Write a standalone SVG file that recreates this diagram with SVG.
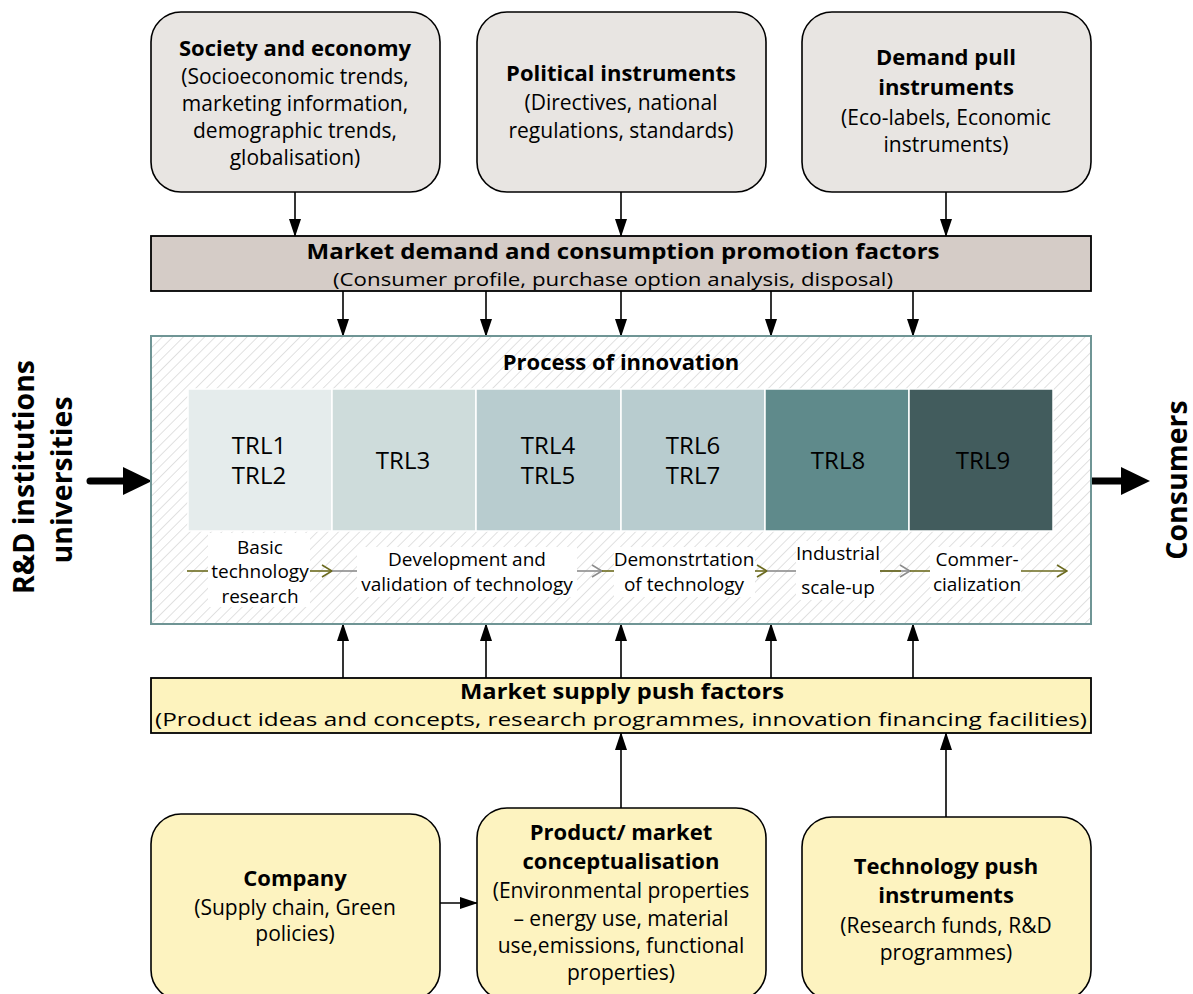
<svg xmlns="http://www.w3.org/2000/svg" width="1193" height="994" viewBox="0 0 1193 994">
<style>
text{font-family:"Open Sans","Noto Sans","Liberation Sans",sans-serif;fill:#000}
.t{font-size:22px;font-weight:bold;text-anchor:middle}
.s{font-size:21px;text-anchor:middle}
.bt{font-size:21px;font-weight:bold;text-anchor:middle}
.bs{font-size:19px;text-anchor:middle}
.trl{font-size:24px;text-anchor:middle}
.ph{font-size:19px;text-anchor:middle}
.side{font-size:28.5px;font-weight:bold;text-anchor:middle}
.topbox{fill:#e8e5e2;stroke:#000;stroke-width:1.6}
.botbox{fill:#fdf3c0;stroke:#000;stroke-width:1.6}
.ln{stroke:#000;stroke-width:1.6;fill:none}
.ol{stroke:#6b6a1e;stroke-width:1.6;fill:none}
.gr{stroke:#8c8c8c;stroke-width:1.6;fill:none}
</style>
<defs>
<pattern id="hatch" patternUnits="userSpaceOnUse" width="7.5" height="7.5" patternTransform="rotate(45)">
<line x1="0" y1="0" x2="0" y2="7.5" stroke="#cccccc" stroke-width="1.2"/>
</pattern>
<marker id="ah" markerWidth="18" markerHeight="12" refX="17" refY="6" orient="auto" markerUnits="userSpaceOnUse">
<path d="M0,0 L18,6 L0,12 Z" fill="#000"/>
</marker>
<marker id="oh" markerWidth="12" markerHeight="14" refX="11" refY="7" orient="auto" markerUnits="userSpaceOnUse">
<path d="M1,1 L11,7 L1,13" fill="none" stroke="#6b6a1e" stroke-width="1.6"/>
</marker>
<marker id="gh" markerWidth="12" markerHeight="14" refX="11" refY="7" orient="auto" markerUnits="userSpaceOnUse">
<path d="M1,1 L11,7 L1,13" fill="none" stroke="#8c8c8c" stroke-width="1.6"/>
</marker>
</defs>
<rect width="1193" height="994" fill="#fff"/>

<g id="connectors">
<line class="ln" x1="295" y1="192" x2="295" y2="236" marker-end="url(#ah)"/>
<line class="ln" x1="621" y1="192" x2="621" y2="236" marker-end="url(#ah)"/>
<line class="ln" x1="946" y1="192" x2="946" y2="236" marker-end="url(#ah)"/>
<line class="ln" x1="343" y1="291" x2="343" y2="336" marker-end="url(#ah)"/>
<line class="ln" x1="486" y1="291" x2="486" y2="336" marker-end="url(#ah)"/>
<line class="ln" x1="621" y1="291" x2="621" y2="336" marker-end="url(#ah)"/>
<line class="ln" x1="771" y1="291" x2="771" y2="336" marker-end="url(#ah)"/>
<line class="ln" x1="913" y1="291" x2="913" y2="336" marker-end="url(#ah)"/>
<line class="ln" x1="343" y1="678" x2="343" y2="624" marker-end="url(#ah)"/>
<line class="ln" x1="486" y1="678" x2="486" y2="624" marker-end="url(#ah)"/>
<line class="ln" x1="621" y1="678" x2="621" y2="624" marker-end="url(#ah)"/>
<line class="ln" x1="771" y1="678" x2="771" y2="624" marker-end="url(#ah)"/>
<line class="ln" x1="913" y1="678" x2="913" y2="624" marker-end="url(#ah)"/>
<line class="ln" x1="621" y1="808" x2="621" y2="733" marker-end="url(#ah)"/>
<line class="ln" x1="946" y1="817" x2="946" y2="733" marker-end="url(#ah)"/>
<line class="ln" x1="440" y1="903" x2="477" y2="903" marker-end="url(#ah)"/>
<line x1="90" y1="481" x2="128" y2="481" stroke="#000" stroke-width="7" stroke-linecap="round"/>
<path d="M123,467 L152,481 L123,495 Z" fill="#000"/>
<line x1="1090" y1="481" x2="1126" y2="481" stroke="#000" stroke-width="7" stroke-linecap="round"/>
<path d="M1121,467 L1150,481 L1121,495 Z" fill="#000"/>
</g>

<g id="society">
<rect class="topbox" x="151" y="12" width="289" height="180" rx="30"/>
<text class="t" x="295" y="56">Society and economy</text>
<text class="s" x="295" y="84">(Socioeconomic trends,</text>
<text class="s" x="295" y="111">marketing information,</text>
<text class="s" x="295" y="138">demographic trends,</text>
<text class="s" x="295" y="165">globalisation)</text>
</g>
<g id="political">
<rect class="topbox" x="477" y="12" width="289" height="180" rx="30"/>
<text class="t" x="621" y="81">Political instruments</text>
<text class="s" x="621" y="110">(Directives, national</text>
<text class="s" x="621" y="138">regulations, standards)</text>
</g>
<g id="demandpull">
<rect class="topbox" x="802" y="12" width="289" height="180" rx="30"/>
<text class="t" x="946" y="65">Demand pull</text>
<text class="t" x="946" y="95">instruments</text>
<text class="s" x="946" y="125">(Eco-labels, Economic</text>
<text class="s" x="946" y="152">instruments)</text>
</g>

<g id="demandbar">
<rect x="151" y="236" width="940" height="55" fill="#d5ccc7" stroke="#000" stroke-width="1.8"/>
<text class="bt" x="623" y="259" textLength="633" lengthAdjust="spacingAndGlyphs">Market demand and consumption promotion factors</text>
<text class="bs" x="613" y="286" textLength="560" lengthAdjust="spacingAndGlyphs">(Consumer profile, purchase option analysis, disposal)</text>
</g>

<g id="innovation">
<rect x="151" y="336" width="940" height="288" fill="#fff"/>
<rect x="151" y="336" width="940" height="288" fill="url(#hatch)" stroke="#6f9595" stroke-width="2"/>
<text class="t" x="621" y="370">Process of innovation</text>
<rect x="188" y="389" width="144" height="142" fill="#e5ecec" stroke="#fff" stroke-width="1.5"/>
<rect x="332" y="389" width="144" height="142" fill="#cedcdb" stroke="#fff" stroke-width="1.5"/>
<rect x="476" y="389" width="145" height="142" fill="#b8cccf" stroke="#fff" stroke-width="1.5"/>
<rect x="621" y="389" width="144" height="142" fill="#b8cccf" stroke="#fff" stroke-width="1.5"/>
<rect x="765" y="389" width="144" height="142" fill="#5f8a8b" stroke="#fff" stroke-width="1.5"/>
<rect x="909" y="389" width="144" height="142" fill="#425c5d" stroke="#fff" stroke-width="1.5"/>
<text class="trl" x="259" y="454">TRL1</text>
<text class="trl" x="259" y="484">TRL2</text>
<text class="trl" x="403" y="469">TRL3</text>
<text class="trl" x="548" y="454">TRL4</text>
<text class="trl" x="548" y="484">TRL5</text>
<text class="trl" x="693" y="454">TRL6</text>
<text class="trl" x="693" y="484">TRL7</text>
<text class="trl" x="838" y="469">TRL8</text>
<text class="trl" x="983" y="469">TRL9</text>
<rect x="208" y="533" width="102" height="74" fill="#fff"/>
<rect x="357" y="547" width="220" height="50" fill="#fff"/>
<rect x="614" y="547" width="141" height="50" fill="#fff"/>
<rect x="796" y="541" width="84" height="59" fill="#fff"/>
<rect x="930" y="547" width="91" height="50" fill="#fff"/>
<line class="ol" x1="187" y1="571" x2="208" y2="571"/>
<line class="ol" x1="310" y1="571" x2="332" y2="571" marker-end="url(#oh)"/>
<line class="gr" x1="332" y1="571" x2="357" y2="571"/>
<line class="gr" x1="577" y1="571" x2="602" y2="571" marker-end="url(#gh)"/>
<line class="ol" x1="602" y1="571" x2="614" y2="571"/>
<line class="ol" x1="755" y1="571" x2="767" y2="571" marker-end="url(#oh)"/>
<line class="gr" x1="767" y1="571" x2="796" y2="571"/>
<line class="gr" x1="880" y1="571" x2="910" y2="571" marker-end="url(#gh)"/>
<line class="ol" x1="880" y1="571" x2="901" y2="571"/>
<line class="ol" x1="910" y1="571" x2="930" y2="571"/>
<line class="ol" x1="1021" y1="571" x2="1067" y2="571" marker-end="url(#oh)"/>
<text class="ph" x="260" y="554">Basic</text>
<text class="ph" x="260" y="578">technology</text>
<text class="ph" x="260" y="603">research</text>
<text class="ph" x="467" y="566">Development and</text>
<text class="ph" x="467" y="591">validation of technology</text>
<text class="ph" x="684" y="566">Demonstrtation</text>
<text class="ph" x="684" y="591">of technology</text>
<text class="ph" x="838" y="560">Industrial</text>
<text class="ph" x="838" y="594">scale-up</text>
<text class="ph" x="977" y="566">Commer-</text>
<text class="ph" x="977" y="591">cialization</text>
</g>

<g id="rnd">
<text class="side" transform="translate(34,477) rotate(-90)">R&amp;D institutions</text>
<text class="side" transform="translate(72,480) rotate(-90)">universities</text>
</g>
<g id="consumers">
<text class="side" transform="translate(1187,480) rotate(-90)">Consumers</text>
</g>

<g id="supplybar">
<rect x="151" y="678" width="940" height="55" fill="#fdf3be" stroke="#000" stroke-width="1.8"/>
<text class="bt" x="622" y="699" textLength="324" lengthAdjust="spacingAndGlyphs">Market supply push factors</text>
<text class="bs" x="621" y="726" textLength="932" lengthAdjust="spacingAndGlyphs">(Product ideas and concepts, research programmes, innovation financing facilities)</text>
</g>

<g id="company">
<rect class="botbox" x="151" y="814" width="289" height="186" rx="30"/>
<text class="t" x="295" y="886">Company</text>
<text class="s" x="295" y="915">(Supply chain, Green</text>
<text class="s" x="295" y="941">policies)</text>
</g>
<g id="product">
<rect class="botbox" x="477" y="808" width="289" height="192" rx="30"/>
<text class="t" x="621" y="840">Product/ market</text>
<text class="t" x="621" y="869">conceptualisation</text>
<text class="s" x="621" y="898">(Environmental properties</text>
<text class="s" x="621" y="926">– energy use, material</text>
<text class="s" x="621" y="953">use,emissions, functional</text>
<text class="s" x="621" y="980">properties)</text>
</g>
<g id="techpush">
<rect class="botbox" x="802" y="817" width="289" height="183" rx="30"/>
<text class="t" x="946" y="874">Technology push</text>
<text class="t" x="946" y="903">instruments</text>
<text class="s" x="946" y="933">(Research funds, R&amp;D</text>
<text class="s" x="946" y="960">programmes)</text>
</g>
</svg>
